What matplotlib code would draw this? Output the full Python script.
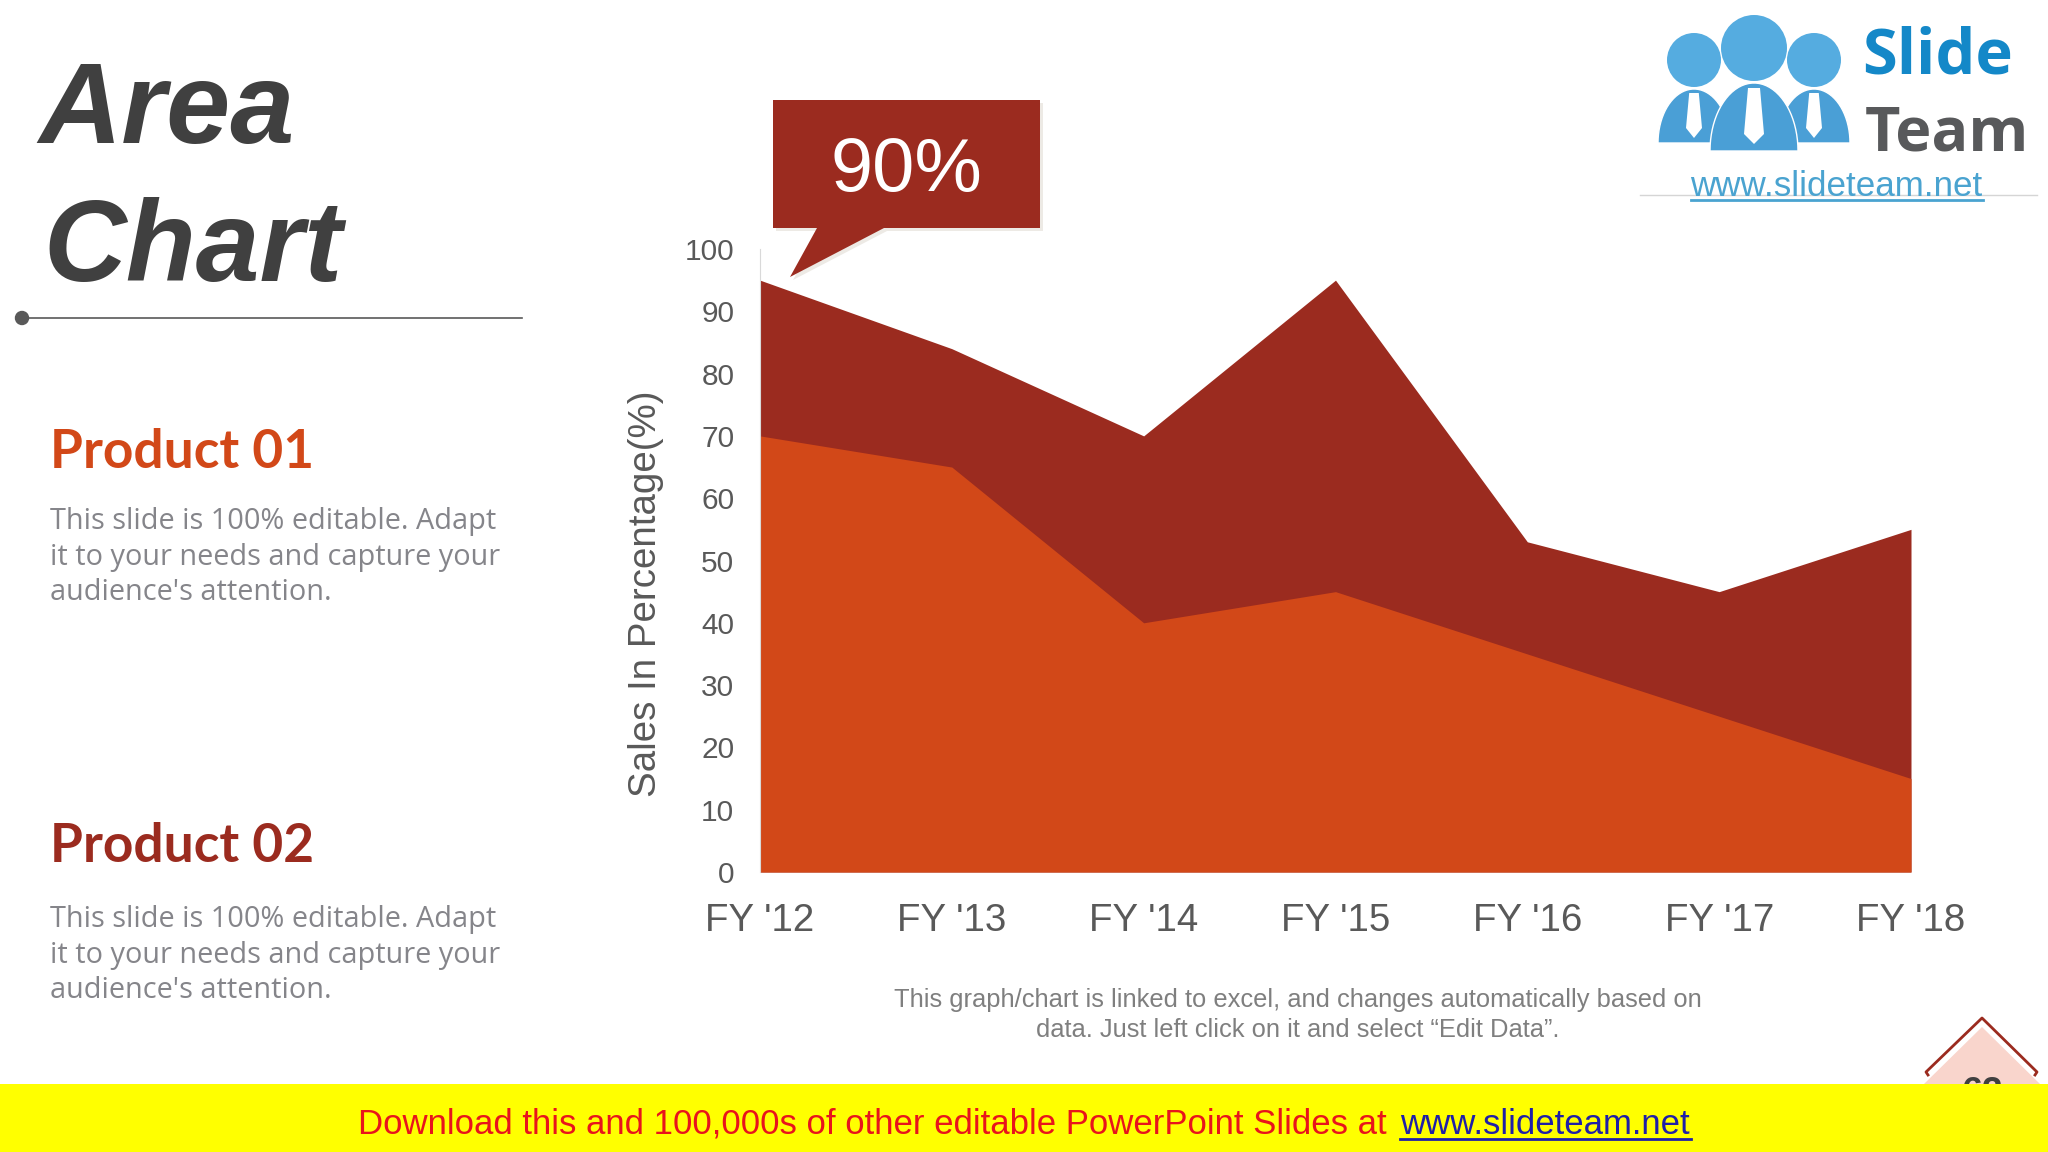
import numpy as np
import matplotlib
matplotlib.use("Agg")
import matplotlib.pyplot as plt
from matplotlib.patches import Circle, Polygon, Rectangle

years = ["FY '12", "FY '13", "FY '14", "FY '15", "FY '16", "FY '17", "FY '18"]
product_02 = [95, 84, 70, 95, 53, 45, 55]
product_01 = [70, 65, 40, 45, 35, 25, 15]
y_ticks = [0, 10, 20, 30, 40, 50, 60, 70, 80, 90, 100]

ORANGE = "#D24818"
DARK_RED = "#9B2B1F"
ARIAL = "Liberation Sans"
BODY = "Open Sans"

W, H = 2048, 1152
plt.rcParams["font.family"] = [ARIAL, "DejaVu Sans"]
fig = plt.figure(figsize=(20.48, 11.52), dpi=100, facecolor="white")

# chart, placed in pixel position
left, right, top, bottom = 760, 1911, 249, 872
ax = fig.add_axes([left / W, 1 - bottom / H, (right - left) / W, (bottom - top) / H])
x = np.arange(len(years))
ax.fill_between(x, product_02, color=DARK_RED, linewidth=0)
ax.fill_between(x, product_01, color=ORANGE, linewidth=0)
ax.set_xlim(0, 6)
ax.set_ylim(0, 100)
ax.set_xticks(x)
ax.set_xticklabels(years, fontsize=27.7, color="#595959")
ax.set_yticks(y_ticks)
ax.tick_params(axis="y", labelsize=21.5, labelcolor="#595959", length=0, pad=18.5)
ax.tick_params(axis="x", length=0, pad=22)
ax.set_facecolor("none")
for side in ["top", "right", "bottom"]:
    ax.spines[side].set_visible(False)
ax.spines["left"].set_color("#D9D9D9")

# overlay in pixel coordinates for the slide furniture
ov = fig.add_axes([0, 0, 1, 1], zorder=5)
ov.set_xlim(0, W)
ov.set_ylim(H, 0)
ov.axis("off")


def px_text(px, py, s, size, color, **kw):
    kw.setdefault("va", "center")
    return ov.text(px, py, s, fontsize=size, color=color, **kw)


ov.text(646, 594, "Sales In Percentage(%)", rotation=90, fontsize=27.7, color="#595959",
        ha="center", va="center")

# title block
px_text(38, 113, "Area", 83, "#404040", fontweight="bold", fontstyle="italic")
px_text(43, 251, "Chart", 82.5, "#404040", fontweight="bold", fontstyle="italic")
ov.plot([22, 522], [318, 318], color="#595959", lw=1.2)
ov.add_patch(Circle((22, 318), 6.5, color="#595959"))

# left text
body = "This slide is 100% editable. Adapt\nit to your needs and capture your\naudience's attention."
px_text(50, 453, "Product 01", 38.3, ORANGE, fontweight="bold", family="Lato")
px_text(50, 557, body, 20.8, "#85858A", family=BODY, linespacing=1.29)
px_text(50, 847, "Product 02", 38.3, DARK_RED, fontweight="bold", family="Lato")
px_text(50, 955, body, 20.8, "#85858A", family=BODY, linespacing=1.29)

# callout
tail = [(817, 228), (790, 277), (884, 228)]
ov.add_patch(Rectangle((776, 103), 267, 128, color="#EDEAE5", lw=0))
ov.add_patch(Polygon([(p[0] + 3, p[1] + 3) for p in tail], color="#EDEAE5", lw=0))
ov.add_patch(Rectangle((773, 100), 267, 128, color=DARK_RED, lw=0))
ov.add_patch(Polygon(tail, color=DARK_RED, lw=0))
px_text(906, 172, "90%", 54.6, "white", ha="center")

# caption
px_text(1298, 1000, "This graph/chart is linked to excel, and changes automatically based on",
        18.35, "#7F7F7F", ha="center")
px_text(1298, 1030, "data. Just left click on it and select “Edit Data”.",
        18.35, "#7F7F7F", ha="center")

# logo
BLUE = "#55ACE0"
BLUE_DK = "#4A9FD6"
ov.plot([1640, 2037], [195, 195], color="#D5D5D5", lw=1)
for cx, cy, r in [(1694, 60, 27), (1814, 60, 27), (1754, 48, 33)]:
    ov.add_patch(Circle((cx, cy), r, color=BLUE, lw=0))
for cx, half, rise, base in [(1694, 36, 54, 143), (1814, 36, 54, 143), (1754, 44, 68, 151)]:
    t = np.linspace(np.pi, 0, 40)
    pts = np.column_stack([cx + half * np.cos(t), base - rise * np.sin(t)])
    ov.add_patch(Polygon(pts, facecolor=BLUE_DK, edgecolor="white", lw=1))
for cx, y0, y1, w in [(1694, 93, 138, 8), (1814, 93, 138, 8), (1754, 88, 144, 10)]:
    tie = [(cx - w * 0.6, y0), (cx + w * 0.6, y0), (cx + w, y1 - 10), (cx, y1), (cx - w, y1 - 10)]
    ov.add_patch(Polygon(tie, color="white", lw=0))
px_text(1862, 57, "Slide", 45.5, "#1488C8", fontweight="bold", family=BODY)
px_text(1865, 135, "Team", 44, "#58595B", fontweight="bold", family=BODY)
px_text(1836, 187, "www.slideteam.net", 25.2, "#4AA3D0", ha="center")
ov.plot([1691, 1983], [200, 200], color="#4AA3D0", lw=2)

# page marker, cut by the yellow band
ov.add_patch(Polygon([(1982, 1027), (2040, 1084), (1924, 1084)], color="#F9D5CC", lw=0))
ov.plot([1928, 1926, 1982, 2037, 2035], [1075, 1072, 1018, 1072, 1075], color=DARK_RED, lw=2)
px_text(1982, 1076, "62", 27, "#404040", ha="center", va="top", fontweight="bold")

# footer band
ov.add_patch(Rectangle((0, 1084), W, 68, color="#FFFF00", lw=0, zorder=4))
px_text(358, 1124, "Download this and 100,000s of other editable PowerPoint Slides at", 25.05,
        "#E8141C", ha="left", zorder=5)
px_text(1400, 1124, "www.slideteam.net", 25.05, "#1F1FA8", ha="left", zorder=5)
ov.plot([1400, 1691], [1139, 1139], color="#1F1FA8", lw=2, zorder=5)

fig.savefig("out.png", dpi=100)
